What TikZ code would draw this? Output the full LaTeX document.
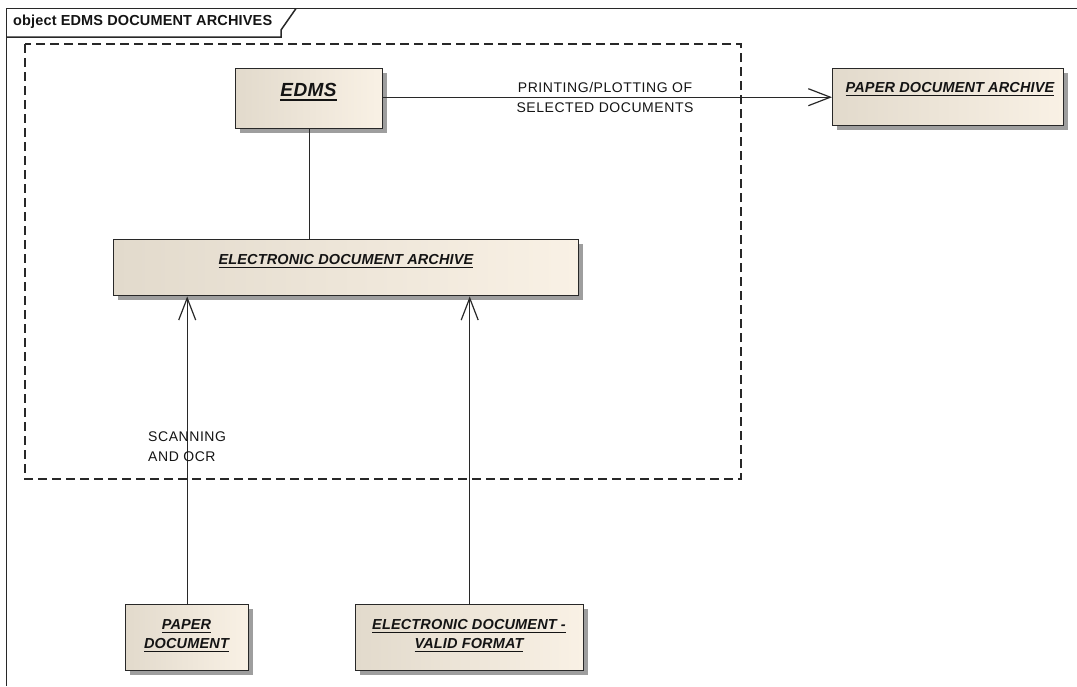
\documentclass[tikz,border=0pt]{standalone}
\usepackage{fontspec}
\setmainfont{Liberation Sans}
\newfontfamily\lblfamily[LetterSpace=4]{Liberation Sans}
\newfontfamily\boxfamily[LetterSpace=1]{Liberation Sans}
\newfontfamily\bigfamily[LetterSpace=2]{Liberation Sans}
\usetikzlibrary{arrows.meta,shadows}
\definecolor{eaL}{RGB}{226,218,204}
\definecolor{eaR}{RGB}{249,241,229}
\definecolor{eaLine}{RGB}{40,40,40}
\definecolor{eaText}{RGB}{20,20,20}
\newsavebox\eaulbox
\newcommand\eaul[1]{\sbox\eaulbox{#1}\rlap{\usebox\eaulbox}\rule[-3.8pt]{\wd\eaulbox}{1.4pt}}
\newcommand\fLbl{\lblfamily\fontsize{14}{20}\selectfont}
\newcommand\fBox{\boxfamily\bfseries\itshape\fontsize{14.5}{19}\selectfont}
\newcommand\fBig{\bigfamily\bfseries\itshape\fontsize{19}{22}\selectfont}
\newcommand\fTitle{\boxfamily\bfseries\fontsize{14.5}{16}\selectfont}
\tikzset{
  eabox/.style={draw=eaLine, line width=1.4pt, left color=eaL, right color=eaR,
    drop shadow={shadow xshift=4pt, shadow yshift=-4pt, fill=black!38, opacity=1},
    inner sep=0pt, anchor=north west},
  boxtext/.style={inner sep=0pt, text=eaText, align=center, font=\fBox},
  lbltext/.style={inner sep=0pt, text=eaText, font=\fLbl},
  conn/.style={draw=eaLine, line width=1.2pt},
  arr/.style={conn, -{Straight Barb[length=22pt,width=17pt,line width=1.2pt]}},
  framepath/.style={draw=eaLine, line width=1.5pt},
  dashbox/.style={draw=eaLine, line width=1.2pt, dash pattern=on 9pt off 5pt}
}
\begin{document}
\begin{tikzpicture}[x=1pt,y=-1pt]
\useasboundingbox (0,0) rectangle (1077,686);
% frame
\draw[framepath] (6.5,686) -- (6.5,8.5) -- (1077,8.5);
\draw[framepath] (6.5,37) -- (281,37) -- (281,30) -- (296,8.5);
\node[inner sep=0pt, anchor=west, text=eaText, font=\fTitle] (title) at (13,22) {object EDMS DOCUMENT ARCHIVES};
% dashed boundary
\draw[dashbox] (25,44) rectangle (741,479);
% boxes
\node[eabox, minimum width=147pt, minimum height=60pt] (edms) at (235,68) {};
\node[eabox, minimum width=231pt, minimum height=57pt] (pda) at (832,68) {};
\node[eabox, minimum width=465pt, minimum height=56pt] (eda) at (113,239) {};
\node[eabox, minimum width=123pt, minimum height=66pt] (pd) at (125,604) {};
\node[eabox, minimum width=228pt, minimum height=66pt] (edvf) at (355,604) {};
% box texts
\node[boxtext, font=\fBig] (tedms) at (308.5,92) {\eaul{EDMS}};
\node[boxtext] (tpda) at (950,89) {\eaul{PAPER DOCUMENT ARCHIVE}};
\node[boxtext] (teda) at (346,261) {\eaul{ELECTRONIC DOCUMENT ARCHIVE}};
\node[boxtext] (tpd) at (186.5,636) {\eaul{PAPER}\\\eaul{DOCUMENT}};
\node[boxtext] (tedvf) at (469,636) {\eaul{ELECTRONIC DOCUMENT -}\\\eaul{VALID FORMAT}};
% connectors
\draw[conn] (edms.south) -- (edms.south |- eda.north);
\draw[arr] (edms.east |- pda.west) -- (pda.west);
\draw[arr] (pd.north) -- (pd.north |- eda.south);
\draw[arr] (edvf.north) -- (edvf.north |- eda.south);
% connector labels
\node[lbltext, align=center] (lprint) at (605,97) {PRINTING/PLOTTING OF\\SELECTED DOCUMENTS};
\node[lbltext, align=left, anchor=west] (lscan) at (148,447) {SCANNING\\AND OCR};
\end{tikzpicture}
\end{document}
